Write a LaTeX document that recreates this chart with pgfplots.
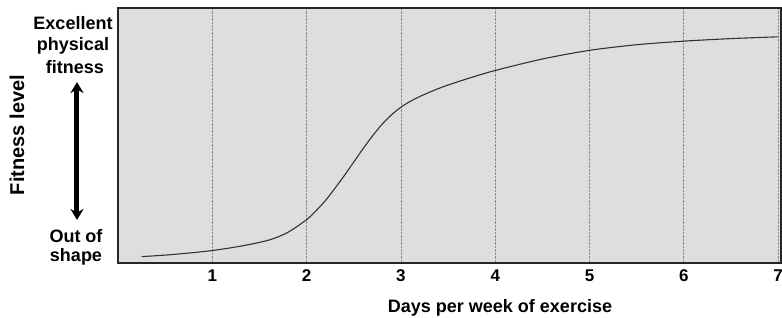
\documentclass[border=0pt]{standalone}
\usepackage{fontspec}
\setmainfont{Liberation Sans}
\usepackage{pgfplots}
\pgfplotsset{compat=1.18}
\usetikzlibrary{arrows.meta}
\begin{document}
\begin{tikzpicture}
\useasboundingbox (-118pt,-54pt) rectangle (664pt,263pt);
\begin{axis}[
  at={(0pt,0pt)}, anchor=south west,
  scale only axis, width=663pt, height=255pt,
  xmin=0, xmax=7.03, ymin=0, ymax=1,
  xtick={1,2,3,4,5,6,7}, ytick=\empty,
  major tick length=0pt,
  /pgf/number format/assume math mode=true,
  xticklabel style={font=\bfseries\fontsize{17}{17}\selectfont, yshift=-3pt},
  xmajorgrids, grid style={black!45, densely dotted, line width=0.8pt},
  axis background/.style={fill=black!13},
  axis line style={black!85, line width=1.2pt},
  clip=false,
]
\addplot[black!80, line width=1.1pt, smooth, tension=0.5] coordinates {
(0.25,0.025) (0.5,0.031) (0.75,0.039) (1.0,0.049) (1.3,0.066) (1.6,0.09)
(1.8,0.12) (2.0,0.17) (2.1,0.205) (2.2,0.245) (2.3,0.293) (2.4,0.343)
(2.5,0.396) (2.6,0.449) (2.7,0.499) (2.8,0.544) (2.9,0.581) (3.0,0.611)
(3.1,0.634) (3.2,0.653) (3.35,0.677) (3.5,0.698) (3.75,0.728) (4.0,0.755)
(4.5,0.80) (5.0,0.834) (5.5,0.856) (6.0,0.870) (6.5,0.880) (7.0,0.887)
};
\end{axis}
\begin{scope}[font=\bfseries\fontsize{18}{18}\selectfont]
\node[anchor=base] at (-45pt,234pt) {Excellent};
\node[anchor=base] at (-45pt,213pt) {physical};
\node[anchor=base] at (-43pt,190pt) {fitness};
\node[anchor=base] at (-42pt,21pt) {Out of};
\node[anchor=base] at (-42pt,2pt) {shape};
\node[anchor=base] at (382pt,-49pt) {Days per week of exercise};
\end{scope}
\node[rotate=90, font=\bfseries\fontsize{20}{20}\selectfont] at (-101pt,128pt) {Fitness level};
\draw[line width=5pt, {Stealth[length=11pt,width=13pt]}-{Stealth[length=11pt,width=13pt]}] (-41pt,181pt) -- (-41pt,43pt);
\end{tikzpicture}
\end{document}
